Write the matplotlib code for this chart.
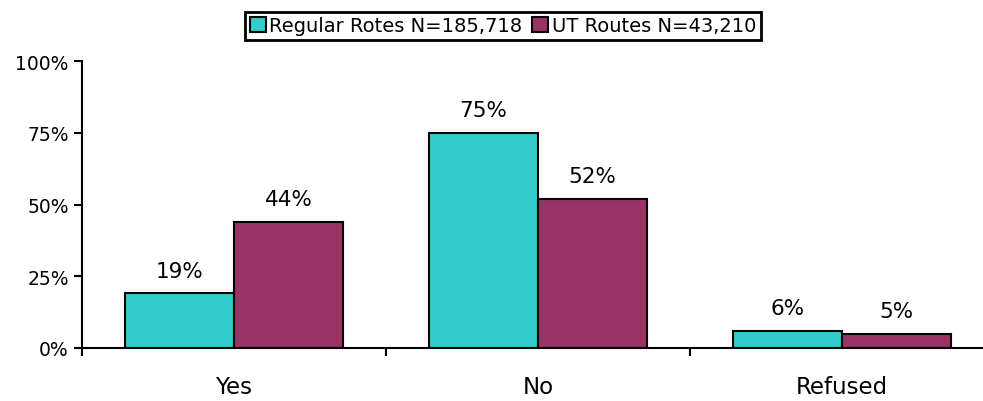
import matplotlib
matplotlib.use("Agg")
import matplotlib.pyplot as plt
import numpy as np

categories = ["Yes", "No", "Refused"]
regular = [19, 75, 6]
ut = [44, 52, 5]
series_names = ["Regular Rotes N=185,718", "UT Routes N=43,210"]
yticks = [0, 25, 50, 75, 100]

plt.rcParams['font.family'] = ['DejaVu Sans']
fig = plt.figure(figsize=(9.83, 4.02), dpi=100)
ax = fig.add_axes([82/983, 53/402, 1 - 82/983, 287/402])

x = np.arange(len(categories))
w = 0.358
b1 = ax.bar(x - w/2, regular, w, color="#33CCCC", edgecolor="black", linewidth=1.5, label=series_names[0])
b2 = ax.bar(x + w/2, ut, w, color="#993366", edgecolor="black", linewidth=1.5, label=series_names[1])

for bars, vals in ((b1, regular), (b2, ut)):
    for r, v in zip(bars, vals):
        ax.text(r.get_x() + r.get_width()/2, v + 4.5, f"{v}%", ha="center", va="bottom", fontsize=15.5)

ax.set_xlim(-0.5, (983 - 234) / 304)
ax.set_ylim(0, 100)
ax.set_yticks(yticks)
ax.set_yticklabels([f"{t}%" for t in yticks], fontsize=13.5)
ax.set_xticks([-0.5, 0.5, 1.5])
ax.set_xticklabels([])
ax.tick_params(axis="both", direction="out", length=6, width=1.5, color="black")
for i, c in enumerate(categories):
    ax.text(i, -9.5, c, ha="center", va="top", fontsize=16.5, transform=ax.transData)

for s in ["top", "right"]:
    ax.spines[s].set_visible(False)
ax.spines["left"].set_linewidth(1.5)
ax.spines["bottom"].set_linewidth(1.5)

leg = fig.legend(handles=[b1, b2], loc="center", bbox_to_anchor=(503/983, 1 - 27/402), ncol=2,
                 frameon=True, fancybox=False, edgecolor="black", framealpha=1, fontsize=14,
                 handlelength=0.8, handleheight=0.8, handletextpad=0.2, columnspacing=0.5,
                 borderpad=0.25, borderaxespad=0)
leg.get_frame().set_linewidth(2)

fig.savefig("out.png", dpi=100)
